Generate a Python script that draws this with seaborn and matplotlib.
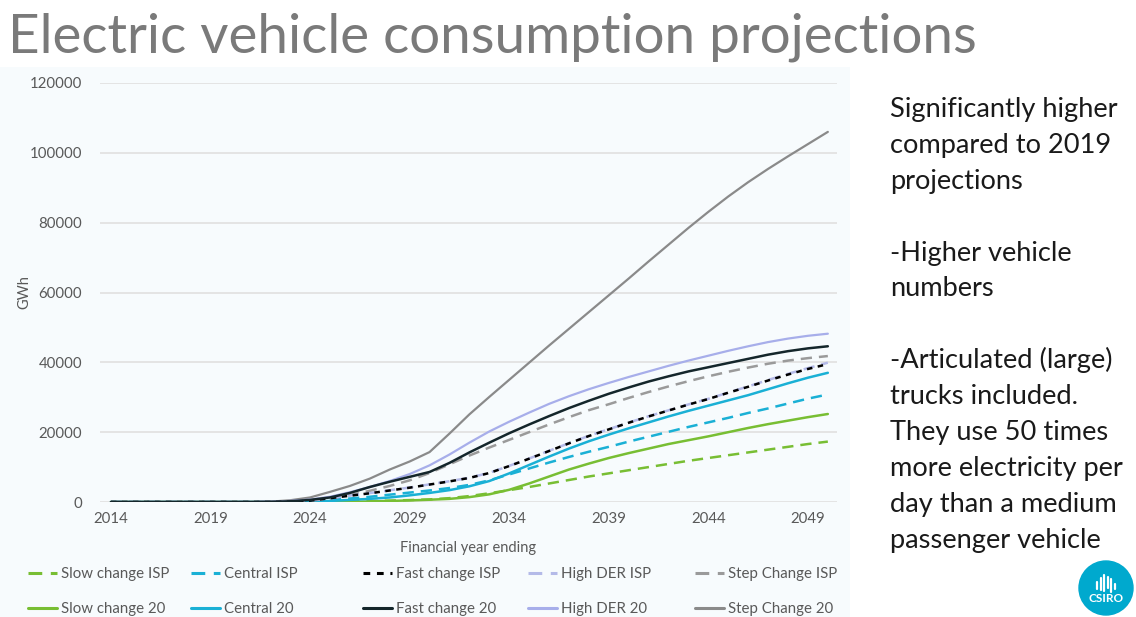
import matplotlib
matplotlib.use("Agg")
import matplotlib.pyplot as plt
import numpy as np
import pandas as pd
import seaborn as sns
from matplotlib.patches import Rectangle, Circle
from matplotlib.lines import Line2D

# ---- data (GWh, financial year ending 2014..2050) ----
years = list(range(2014, 2051))

slow_change_isp = [0] * 11 + [50, 150, 250, 400, 550, 750, 1100, 1700, 2500, 3400, 4300, 5300, 6300,
                              7300, 8200, 9100, 10000, 10900, 11800, 12600, 13400, 14200, 15000,
                              15800, 16600, 17300]
slow_change_20 = [0] * 12 + [50, 150, 300, 450, 650, 900, 1400, 2200, 3500, 5300, 7300, 9300, 11000,
                             12600, 14000, 15300, 16600, 17700, 18800, 20000, 21200, 22300, 23300,
                             24300, 25200]
central_isp = [0] * 9 + [100, 300, 600, 1000, 1500, 2100, 2700, 3300, 4000, 4900, 6200, 7900, 9600,
                         11300, 12900, 14400, 15800, 17300, 18700, 20100, 21500, 22800, 24100,
                         25500, 26800, 28200, 29600, 30800]
central_20 = [0] * 10 + [100, 300, 600, 900, 1300, 1900, 2600, 3400, 4500, 6000, 8200, 10600, 13000,
                         15300, 17400, 19300, 21100, 22800, 24500, 26100, 27600, 29100, 30600,
                         32300, 34000, 35600, 37000]
fast_change_isp = [0] * 9 + [100, 400, 1100, 1800, 2500, 3300, 4100, 5000, 5900, 6900, 8300, 10300,
                             12400, 14600, 16800, 18900, 20800, 22700, 24500, 26200, 27900, 29500,
                             31300, 33000, 34800, 36500, 38100, 39500]
fast_change_20 = [0] * 8 + [50, 200, 600, 1300, 2600, 4300, 5800, 7200, 8600, 11200, 14200, 17000,
                            19700, 22200, 24600, 26900, 29000, 31000, 32800, 34500, 36000, 37400,
                            38600, 39800, 41000, 42200, 43200, 44000, 44600]
high_der_isp = [0] * 9 + [120, 450, 1150, 1850, 2550, 3350, 4150, 5050, 5950, 6950, 8350, 10350,
                          12450, 14650, 16850, 18950, 20850, 22750, 24550, 26250, 27950, 29550,
                          31350, 33100, 34950, 36700, 38350, 39900]
high_der_20 = [0] * 8 + [80, 300, 700, 1500, 2800, 4300, 6000, 8000, 10500, 13600, 17000, 20200,
                         23000, 25600, 28100, 30300, 32300, 34100, 35800, 37400, 39000, 40500,
                         41900, 43300, 44600, 45800, 46800, 47600, 48200]
step_change_isp = [0] * 9 + [150, 400, 1000, 2000, 3200, 4600, 6200, 8300, 10800, 13300, 15600,
                             17800, 20000, 22200, 24300, 26300, 28000, 29800, 31500, 33100, 34600,
                             36000, 37300, 38500, 39600, 40500, 41200, 41800]
step_change_20 = [0] * 8 + [100, 500, 1300, 2900, 4600, 6700, 9300, 11600, 14300, 19600, 25100,
                            30100, 35000, 39900, 44800, 49600, 54400, 59200, 64000, 68900, 73700,
                            78500, 83100, 87500, 91600, 95400, 99000, 102500, 106000]

y_ticks = [0, 20000, 40000, 60000, 80000, 100000, 120000]
x_ticks = [2014, 2019, 2024, 2029, 2034, 2039, 2044, 2049]

title = "Electric vehicle consumption projections"
notes = ["Significantly higher", "compared to 2019", "projections", "",
         "-Higher vehicle", "numbers", "",
         "-Articulated (large)", "trucks included.", "They use 50 times",
         "more electricity per", "day than a medium", "passenger vehicle"]

# ---- series styling ----
GREEN, CYAN, DARK, LAVENDER, GREY = "#78be33", "#1ab0d5", "#14262b", "#a7aeea", "#8a8a8a"
DASH = (0, (4.5, 2.8))
series = [
    ("Slow change ISP", slow_change_isp, GREEN, DASH, 1.8),
    ("Slow change 20", slow_change_20, GREEN, "-", 1.8),
    ("Central ISP", central_isp, CYAN, DASH, 1.8),
    ("Central 20", central_20, CYAN, "-", 1.8),
    ("Fast change ISP", fast_change_isp, "#000000", (0, (2.2, 2.2)), 1.8),
    ("Fast change 20", fast_change_20, DARK, "-", 1.8),
    ("High DER ISP", high_der_isp, "#b4bae8", DASH, 1.8),
    ("High DER 20", high_der_20, LAVENDER, "-", 1.6),
    ("Step Change ISP", step_change_isp, "#9a9a9a", DASH, 1.8),
    ("Step Change 20", step_change_20, GREY, "-", 1.6),
]
draw_order = [1, 0, 3, 2, 8, 9, 7, 6, 4, 5]

sns.set_theme(style="white")
plt.rcParams["font.family"] = ["Lato", "DejaVu Sans"]

W, H = 1136, 617
fig = plt.figure(figsize=(W / 100, H / 100), dpi=100)
fig.patch.set_facecolor("white")

# light panel behind the chart
fig.add_artist(Rectangle((0, 0), 850 / W, 1 - 67 / H, transform=fig.transFigure,
                         facecolor="#f7fbfd", edgecolor="none", zorder=0))

ax = fig.add_axes([100 / W, 1 - 502 / H, 737 / W, 419 / H])
ax.set_facecolor("none")

for i in draw_order:
    name, vals, col, ls, lw = series[i]
    sns.lineplot(x=years, y=vals, ax=ax, color=col, linestyle=ls, linewidth=lw,
                 legend=False, zorder=3 + draw_order.index(i) * 0.1)

ax.set_xlim(2013.45, 2050.46)
ax.set_ylim(0, 120000)
ax.set_yticks(y_ticks)
ax.set_yticklabels([str(v) for v in y_ticks])
ax.set_xticks(x_ticks)
ax.set_xticklabels([str(v) for v in x_ticks])
ax.grid(axis="y", color="#e2e2e2", linewidth=1.3)
ax.grid(axis="x", visible=False)
for s in ax.spines.values():
    s.set_visible(False)
ax.tick_params(axis="both", length=0, labelsize=10.8, colors="#595959")
ax.tick_params(axis="y", pad=13)
ax.tick_params(axis="x", pad=7)
ax.set_xlabel("Financial year ending", fontsize=10.5, color="#595959", labelpad=11)
ax.set_ylabel("GWh", fontsize=10.5, color="#595959")
ax.yaxis.set_label_coords(-0.093, 0.5)

# legend: five columns, ISP on the first row, 20 on the second
col_x = [28, 191, 363, 528, 695]
for c in range(5):
    hs = []
    for k in (2 * c, 2 * c + 1):
        name, vals, col, ls, lw = series[k]
        hs.append(Line2D([0], [0], color=col, linestyle=ls, linewidth=2.2, label=name))
    fig.legend(handles=hs, loc="upper left", bbox_to_anchor=(col_x[c] / W, 1 - 567 / H),
               frameon=False, fontsize=10.8, labelcolor="#595959", handlelength=1.9,
               handletextpad=0.3, labelspacing=1.42, borderpad=0, borderaxespad=0)

# title
t = fig.text(8 / W, 1 - 53 / H, title, fontsize=44, color="#7a7a7a", va="baseline", ha="left")
fig.canvas.draw()
r = fig.canvas.get_renderer()
w = t.get_window_extent(r).width
t.set_fontsize(44 * 970 / w)

# notes on the right
probe = fig.text(0, 0, notes[0], fontsize=18)
fig.canvas.draw()
pw = probe.get_window_extent(r).width
probe.remove()
note_size = 18 * 227 / pw
for i, line in enumerate(notes):
    if line:
        fig.text(890 / W, 1 - (117 + i * 35.9) / H, line, fontsize=note_size,
                 color="#1a1a1a", va="baseline", ha="left")

# logo
lax = fig.add_axes([(1106 - 30) / W, 1 - (588 + 30) / H, 60 / W, 60 / H])
lax.set_xlim(-30, 30)
lax.set_ylim(-30, 30)
lax.set_aspect("equal")
lax.axis("off")
lax.add_patch(Circle((0, 0), 27, color="#00a9ce"))
bar_x = [-9, -5.5, -2, 1.5, 5, 8.5]
bar_top = [6, 10, 13, 11, 9, 4]
bar_bot = [-1, -2, -3, 0, -4, -1]
for bx, bt, bb in zip(bar_x, bar_top, bar_bot):
    lax.plot([bx, bx], [bb, bt], color="white", linewidth=1.6, solid_capstyle="round")
lax.text(0, -11, "CSIRO", color="white", fontsize=8.5, fontweight="bold",
         ha="center", va="center")

fig.savefig("out.png", dpi=100, facecolor="white")
